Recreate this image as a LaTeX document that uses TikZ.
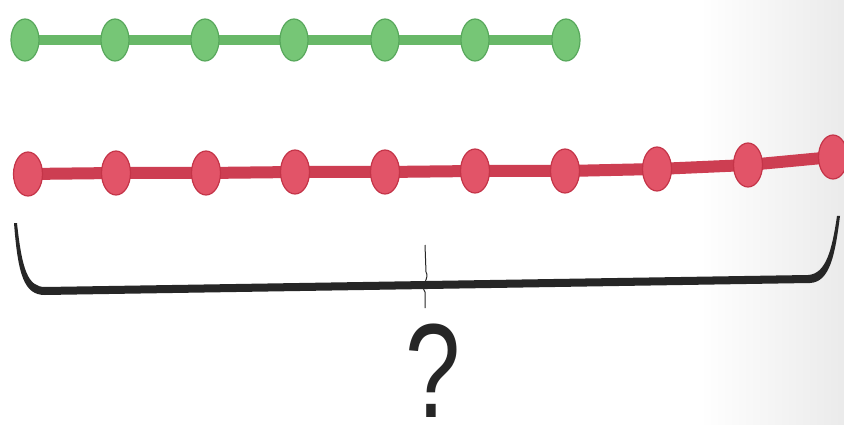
\documentclass[tikz,border=0pt]{standalone}
\usepackage{fontspec}
\setmainfont{Liberation Sans}
\usetikzlibrary{shapes.geometric,backgrounds}
\definecolor{gfill}{RGB}{118,198,118}
\definecolor{gedge}{RGB}{88,168,92}
\definecolor{gline}{RGB}{104,184,104}
\definecolor{rfill}{RGB}{226,84,104}
\definecolor{redge}{RGB}{196,52,72}
\definecolor{rline}{RGB}{205,62,82}
\definecolor{ink}{RGB}{38,38,38}
\tikzset{
  gbead/.style={ellipse, draw=gedge, fill=gfill, line width=1.2pt, minimum width=28pt, minimum height=42pt, inner sep=0pt},
  rbead/.style={ellipse, draw=redge, fill=rfill, line width=1.2pt, minimum width=29pt, minimum height=44pt, inner sep=0pt},
  gwire/.style={draw=gline, line width=10pt},
  rwire/.style={draw=rline, line width=12pt, line join=round},
}
\begin{document}
\begin{tikzpicture}[x=1pt,y=-1pt]
\useasboundingbox (0,0) rectangle (844,425);
% green beads
\foreach \i/\x in {1/25,2/115,3/205,4/294,5/385,6/475,7/566}
  \node[gbead] (g\i) at (\x,40) {};
% red beads
\foreach \i/\x/\y in {1/28/174,2/116/173,3/206/173,4/295/172,5/385/172,6/475/171,7/565/171,8/657/169,9/748/165,10/833/157}
  \node[rbead] (r\i) at (\x,\y) {};
\begin{scope}[on background layer]
  \fill[white] (0,0) rectangle (844,425);
  \shade[left color=white, right color=black!8] (700,0) rectangle (844,425);
  \draw[gwire] (g1.center) -- (g7.center);
  \draw[rwire] (r1.center) -- (r2.center) -- (r3.center) -- (r4.center) -- (r5.center) -- (r6.center) -- (r7.center) -- (r8.center) -- (r9.center) -- (r10.center);
\end{scope}
% brace
\fill[ink] (14,223) .. controls (18,275) and (24,295) .. (45,295) -- (810,283)
  .. controls (830,282) and (835,255) .. (840,216)
  -- (837,216) .. controls (832,250) and (826,274) .. (808,275)
  -- (45,287) .. controls (28,287) and (22,270) .. (17,223) -- cycle;
\coordinate (tiptop) at (425,245);
\coordinate (tipbot) at (425,308);
\draw[ink, line width=1pt] (tiptop) -- (426,272) .. controls (430,278) and (420,286) .. (425,292) -- (tipbot);
% question mark
\node[font=\fontsize{134}{134}\selectfont, text=ink, xscale=0.74, inner sep=0pt, text depth=0pt, anchor=base] (q) at (433,417) {?};
\end{tikzpicture}
\end{document}
